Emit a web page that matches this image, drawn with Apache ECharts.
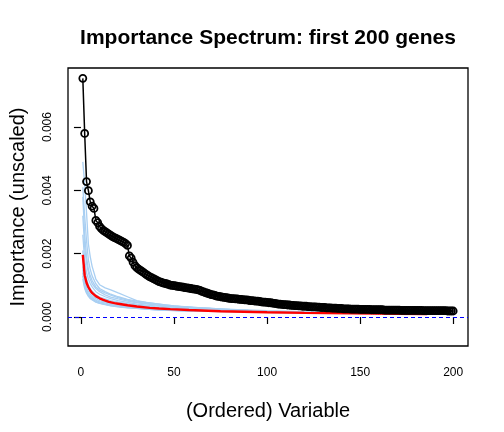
<!DOCTYPE html>
<html>
<head>
<meta charset="utf-8">
<script src="https://cdn.jsdelivr.net/npm/echarts/dist/echarts.min.js"></script>
<style>
  html, body { margin: 0; padding: 0; background: #fff; }
  #chart { width: 504px; height: 432px; }
</style>
</head>
<body>
<div id="chart"></div>
<script>
// importance of the first 200 ordered genes (black circles)
const importance = [
  0.00754, 0.00580, 0.00428, 0.00399, 0.00364, 0.00350, 0.00343, 0.00305, 0.00298, 0.00286,
  0.00279, 0.00274, 0.00270, 0.00266, 0.00262, 0.00258, 0.00254, 0.00251, 0.00248, 0.00245,
  0.00242, 0.00239, 0.00236, 0.00232, 0.00226, 0.00193, 0.00186, 0.00173, 0.00162, 0.00156,
  0.00151, 0.00147, 0.00143, 0.00139, 0.00135, 0.00131, 0.00127, 0.00124, 0.00121, 0.00118,
  0.00115, 0.00112, 0.00110, 0.00108, 0.00106, 0.00105, 0.00103, 0.00101, 0.00100, 0.00099,
  0.00098, 0.00097, 0.00096, 0.00095, 0.00094, 0.00093, 0.00092, 0.00091, 0.00090, 0.00089,
  0.00088, 0.00087, 0.00086, 0.00084, 0.00081, 0.00079, 0.00077, 0.00075, 0.00073, 0.00071,
  0.00070, 0.00068, 0.00066, 0.00065, 0.00064, 0.00063, 0.00062, 0.00061, 0.00060, 0.00059,
  0.00058, 0.00058, 0.00057, 0.00057, 0.00056, 0.00056, 0.00055, 0.00054, 0.00054, 0.00053,
  0.00052, 0.00052, 0.00051, 0.00050, 0.00050, 0.00049, 0.00048, 0.00047, 0.00047, 0.00046,
  0.00045, 0.00045, 0.00044, 0.00043, 0.00042, 0.00041, 0.00041, 0.00040, 0.00039, 0.00039,
  0.00038, 0.00038, 0.00037, 0.00037, 0.00036, 0.00036, 0.00035, 0.00035, 0.00034, 0.00034,
  0.00034, 0.00033, 0.00033, 0.00032, 0.00032, 0.00032, 0.00031, 0.00031, 0.00030, 0.00030,
  0.00030, 0.00029, 0.00029, 0.00029, 0.00028, 0.00028, 0.00028, 0.00027, 0.00027, 0.00027,
  0.00026, 0.00026, 0.00026, 0.00026, 0.00025, 0.00025, 0.00025, 0.00025, 0.00025, 0.00024,
  0.00024, 0.00024, 0.00024, 0.00024, 0.00024, 0.00023, 0.00023, 0.00023, 0.00023, 0.00023,
  0.00023, 0.00023, 0.00022, 0.00022, 0.00022, 0.00022, 0.00022, 0.00022, 0.00022, 0.00022,
  0.00022, 0.00021, 0.00021, 0.00021, 0.00021, 0.00021, 0.00021, 0.00021, 0.00021, 0.00021,
  0.00021, 0.00021, 0.00021, 0.00020, 0.00020, 0.00020, 0.00020, 0.00020, 0.00020, 0.00020,
  0.00020, 0.00020, 0.00020, 0.00020, 0.00020, 0.00020, 0.00019, 0.00019, 0.00019, 0.00019
]

// mean of the permuted runs (red line), [rank, importance]
const permMean = [
  [1, 0.00196], [2, 0.00132], [3, 0.00108], [4, 0.00094], [5, 0.00084], [6, 0.00076],
  [7, 0.00070], [8, 0.00066], [9, 0.00062], [10, 0.00059], [12, 0.00054], [15, 0.00048],
  [18, 0.00044], [20, 0.00042], [25, 0.00037], [30, 0.00033], [37, 0.00029], [42, 0.00027],
  [48, 0.00025], [58, 0.00022], [75, 0.00018], [100, 0.00015], [120, 0.00013], [145, 0.00012],
  [170, 0.00010], [186, 0.00009]
]

// single permuted runs (light blue lines)
const permRun1 = [[1, 0.0049], [2, 0.0042], [3, 0.0033], [4, 0.0023], [5, 0.0019], [6, 0.0016], [8, 0.0012], [10, 0.00102], [13, 0.00092], [16, 0.00086], [20, 0.00076], [25, 0.00064], [30, 0.00052], [35, 0.00046], [45, 0.00038], [55, 0.00032], [70, 0.00027], [90, 0.00022]]
const permRun2 = [[1, 0.0041], [2, 0.0032], [3, 0.0024], [4, 0.0018], [5, 0.0015], [6, 0.0013], [8, 0.00105], [10, 0.0009], [13, 0.0008], [16, 0.00072], [20, 0.00064], [25, 0.00056], [30, 0.0005], [40, 0.00042], [50, 0.00035], [65, 0.00029], [80, 0.00024], [100, 0.0002], [120, 0.00017], [150, 0.00014]]
const permRun3 = [[1, 0.0032], [2, 0.0022], [3, 0.0017], [4, 0.0014], [5, 0.0012], [6, 0.00105], [8, 0.0009], [10, 0.0008], [13, 0.0007], [16, 0.00063], [20, 0.00057], [25, 0.0005], [30, 0.00045], [40, 0.00038], [50, 0.00032], [62, 0.00028]]
const permRun4 = [[1, 0.0026], [2, 0.0018], [3, 0.0014], [4, 0.0012], [5, 0.00105], [6, 0.00095], [8, 0.0008], [10, 0.00072], [13, 0.00064], [16, 0.00058], [20, 0.00052], [25, 0.00046], [30, 0.00041], [40, 0.00035], [55, 0.00029], [70, 0.00025], [92, 0.0002]]
const permRun5 = [[1, 0.0021], [2, 0.0015], [3, 0.0012], [4, 0.00102], [5, 0.0009], [6, 0.00082], [8, 0.0007], [10, 0.00063], [13, 0.00057], [16, 0.00052], [20, 0.00047], [25, 0.00042], [30, 0.00038], [40, 0.00032], [50, 0.00028], [60, 0.00025]]
const permRun6 = [[1, 0.0018], [2, 0.0013], [3, 0.00105], [4, 0.0009], [5, 0.0008], [6, 0.00073], [8, 0.00063], [10, 0.00057], [13, 0.00051], [16, 0.00047], [20, 0.00043], [25, 0.00038], [30, 0.00035], [40, 0.0003], [50, 0.00026], [60, 0.00023], [75, 0.0002], [95, 0.00017], [115, 0.00015], [135, 0.00013]]
const permRun7 = [[1, 0.0016], [2, 0.00115], [3, 0.00093], [4, 0.0008], [5, 0.00072], [6, 0.00066], [8, 0.00058], [10, 0.00052], [13, 0.00047], [16, 0.00043], [20, 0.00039], [25, 0.00035], [30, 0.00032], [40, 0.00028], [48, 0.00025]]
const permRun8 = [[1, 0.0015], [2, 0.00105], [3, 0.00085], [4, 0.00074], [5, 0.00066], [6, 0.0006], [8, 0.00053], [10, 0.00048], [13, 0.00044], [16, 0.0004], [20, 0.00036], [25, 0.00033], [30, 0.0003], [40, 0.00026], [55, 0.00022], [70, 0.0002], [90, 0.00017], [110, 0.00015], [130, 0.00013], [151, 0.00012]]
const permRun9 = [[1, 0.0014], [2, 0.001], [3, 0.0008], [4, 0.0007], [5, 0.00062], [6, 0.00057], [8, 0.0005], [10, 0.00045], [13, 0.00041], [16, 0.00038], [20, 0.00034], [25, 0.00031], [30, 0.00028], [40, 0.00024], [50, 0.00021], [65, 0.00019], [80, 0.00017]]
const permRun10 = [[1, 0.0013], [2, 0.00095], [3, 0.00078], [4, 0.00068], [5, 0.0006], [6, 0.00055], [8, 0.00048], [10, 0.00044], [13, 0.0004], [16, 0.00036], [20, 0.00033], [25, 0.0003], [30, 0.00027], [40, 0.00023], [52, 0.0002], [68, 0.00018], [85, 0.00016], [105, 0.00014], [125, 0.00013], [145, 0.00012]]
const permRun11 = [[1, 0.0038], [2, 0.0026], [3, 0.0019], [4, 0.0015], [5, 0.0013], [6, 0.00115], [8, 0.00095], [10, 0.00085], [13, 0.00076], [16, 0.00069], [20, 0.00061], [25, 0.00053], [30, 0.00047], [40, 0.00039], [50, 0.00034], [60, 0.0003], [75, 0.00026]]
const permRun12 = [[1, 0.0012], [2, 0.0009], [3, 0.00075], [4, 0.00065], [5, 0.00058], [6, 0.00053], [8, 0.00047], [10, 0.00043], [13, 0.00039], [16, 0.00035], [20, 0.00032], [25, 0.00029], [30, 0.00027], [40, 0.00023], [50, 0.0002], [60, 0.00018]]
const permRuns = [permRun1, permRun2, permRun3, permRun4, permRun5, permRun6,
  permRun7, permRun8, permRun9, permRun10, permRun11, permRun12]

const xTicks = [0, 50, 100, 150, 200]
const yTicks = [0, 0.002, 0.004, 0.006]

const font = '"Liberation Sans", Arial, Helvetica, sans-serif'
const chart = echarts.init(document.getElementById('chart'))

let series = []
permRuns.map(run => {
  series.push({
    type: 'line',
    data: run,
    symbol: 'none',
    silent: true,
    lineStyle: { color: '#a9cff2', width: 1.3 }
  })
})
series.push({
  type: 'line',
  data: permMean,
  symbol: 'none',
  silent: true,
  lineStyle: { color: '#ff0000', width: 2.4 },
  markLine: {
    silent: true,
    symbol: 'none',
    label: { show: false },
    lineStyle: { color: '#0000ff', type: [4, 3], width: 1.2 },
    data: [{ yAxis: 0 }]
  }
})
series.push({
  type: 'line',
  data: importance.map((v, i) => [i + 1, v]),
  symbol: 'circle',
  symbolSize: 7,
  showAllSymbol: true,
  silent: true,
  itemStyle: { color: 'rgba(0,0,0,0)', borderColor: '#000', borderWidth: 1.8 },
  lineStyle: { color: '#000', width: 1.5 }
})

chart.setOption({
  animation: false,
  grid: [
    // plot region with the box
    { left: 68, top: 68, width: 400, height: 278, show: true, borderColor: '#000', borderWidth: 1.3, backgroundColor: 'transparent' },
    // tick grid: x 0..200, y 0..0.006
    { left: 80.95, top: 127.1, width: 372.25, height: 189.9 }
  ],
  xAxis: [
    { gridIndex: 0, type: 'value', min: -6.96, max: 207.96, show: false },
    {
      gridIndex: 1, type: 'value', min: xTicks[0], max: xTicks[xTicks.length - 1], interval: 50,
      offset: 29,
      axisLine: { show: false },
      axisTick: { show: true, length: 7, lineStyle: { color: '#000', width: 1.2 } },
      axisLabel: { color: '#000', fontSize: 12, fontFamily: font, margin: 21 },
      splitLine: { show: false }
    }
  ],
  yAxis: [
    { gridIndex: 0, type: 'value', min: -0.000916, max: 0.007867, show: false },
    {
      gridIndex: 1, type: 'value', min: yTicks[0], max: yTicks[yTicks.length - 1], interval: 0.002,
      offset: 12.95,
      axisLine: { show: false },
      axisTick: { show: true, length: 7, lineStyle: { color: '#000', width: 1.2 } },
      axisLabel: { color: '#000', fontSize: 12, fontFamily: font, rotate: 90, margin: 14,
        formatter: v => v.toFixed(3) },
      splitLine: { show: false }
    }
  ],
  graphic: [
    { type: 'text', x: 268, y: 38, style: { text: 'Importance Spectrum: first 200 genes', font: 'bold 21px ' + font, fill: '#000', align: 'center', verticalAlign: 'middle' } },
    { type: 'text', x: 268, y: 411, style: { text: '(Ordered) Variable', font: '20px ' + font, fill: '#000', align: 'center', verticalAlign: 'middle' } },
    { type: 'text', x: 18, y: 207, rotation: Math.PI / 2, style: { text: 'Importance (unscaled)', font: '20px ' + font, fill: '#000', align: 'center', verticalAlign: 'middle' } }
  ],
  series: series
})
</script>
</body>
</html>
